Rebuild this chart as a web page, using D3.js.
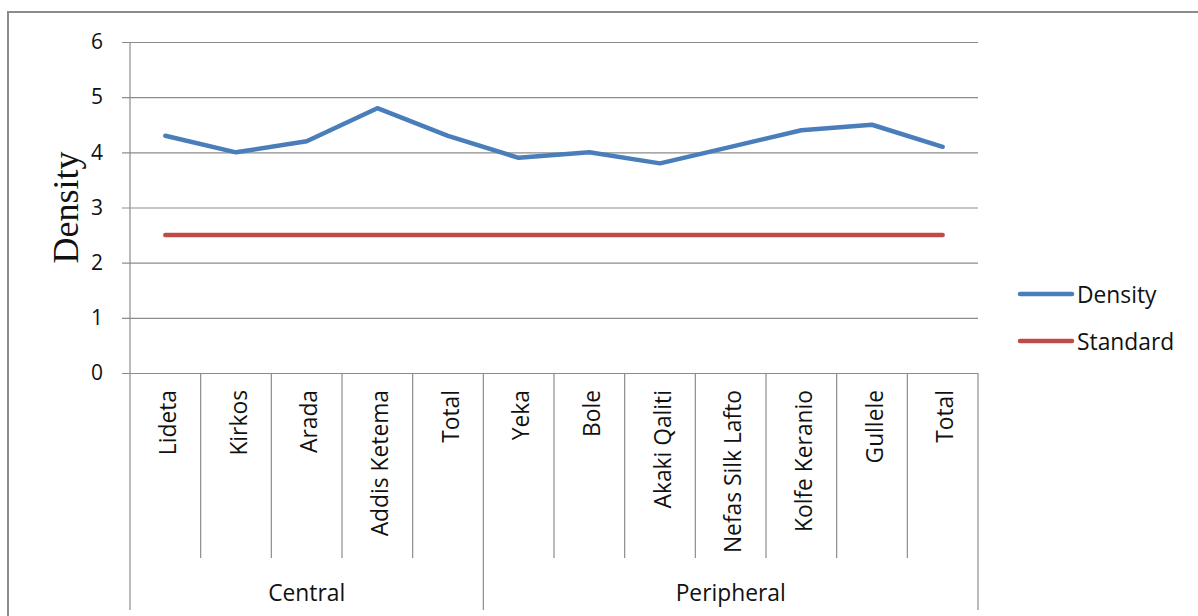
<!DOCTYPE html>
<html>
<head>
<meta charset="utf-8">
<script src="https://cdn.jsdelivr.net/npm/d3@7"></script>
<style>
  html, body { margin: 0; padding: 0; background: #fff; }
  svg { display: block; }
</style>
</head>
<body>
<svg id="chart" width="1198" height="616"></svg>
<script>
// Districts grouped into Central and Peripheral sub-cities
const groups = ["Central", "Peripheral"];
const categories = [
  "Lideta", "Kirkos", "Arada", "Addis Ketema", "Total",
  "Yeka", "Bole", "Akaki Qaliti", "Nefas Silk Lafto", "Kolfe Keranio", "Gullele", "Total"
];
const categoryGroup = [0, 0, 0, 0, 0, 1, 1, 1, 1, 1, 1, 1];
const densityValues = [4.3, 4.0, 4.2, 4.8, 4.3, 3.9, 4.0, 3.8, 4.1, 4.4, 4.5, 4.1];
const standardValues = [2.5, 2.5, 2.5, 2.5, 2.5, 2.5, 2.5, 2.5, 2.5, 2.5, 2.5, 2.5];
const yTicks = [0, 1, 2, 3, 4, 5, 6];
const seriesNames = ["Density", "Standard"];
const seriesColors = ["#4a7ebb", "#be4b48"];

const sans = "'Open Sans', Lato, sans-serif";
const fs = 22.8;
const textColor = "#111";
const svg = d3.select("#chart");

// Outer chart frame
svg.append("rect")
  .attr("x", 8).attr("y", 12).attr("width", 1300).attr("height", 800)
  .attr("fill", "none").attr("stroke", "#8c8c8c").attr("stroke-width", 2);

const plot = { left: 130, right: 978, top: 42, bottom: 373 };

const x = d3.scaleBand()
  .domain(d3.range(categories.length))
  .range([plot.left, plot.right])
  .paddingInner(0).paddingOuter(0);

const y = d3.scaleLinear().domain([0, 6]).range([plot.bottom, plot.top]);

// Horizontal gridlines with small outside ticks
const yAxis = d3.axisLeft(y).tickValues(yTicks).tickFormat(d3.format("d"))
  .tickSize(-(plot.right - plot.left)).tickPadding(0);
const gy = svg.append("g").attr("transform", `translate(${plot.left},0)`).call(yAxis);
gy.select(".domain").remove();
gy.selectAll(".tick line")
  .attr("x1", -8)
  .attr("stroke", "#8c8c8c").attr("stroke-width", 1.2);
gy.selectAll(".tick text")
  .attr("x", -27)
  .attr("font-family", sans).attr("font-size", 21).attr("fill", textColor);

// Vertical axis line
svg.append("line")
  .attr("x1", plot.left).attr("x2", plot.left)
  .attr("y1", plot.top).attr("y2", plot.bottom)
  .attr("stroke", "#8c8c8c").attr("stroke-width", 1.2);

// Y axis title
svg.append("text")
  .attr("transform", `translate(78,${(plot.top + plot.bottom) / 2}) rotate(-90)`)
  .attr("text-anchor", "middle")
  .attr("font-family", "'Liberation Serif', 'DejaVu Serif', serif")
  .attr("font-size", 36).attr("fill", textColor)
  .text("Density");

// Category separators below the axis
const catBottom = 558, groupBottom = 610;
const boundaries = d3.range(categories.length + 1);
svg.append("g").selectAll("line")
  .data(boundaries)
  .join("line")
  .attr("x1", i => i === categories.length ? plot.right : x(i))
  .attr("x2", i => i === categories.length ? plot.right : x(i))
  .attr("y1", plot.bottom)
  .attr("y2", i => {
    if (i === 0 || i === categories.length) return groupBottom;
    return categoryGroup[i] !== categoryGroup[i - 1] ? groupBottom : catBottom;
  })
  .attr("stroke", "#8c8c8c").attr("stroke-width", 1.2);

// Category labels (rotated)
svg.append("g").selectAll("text")
  .data(categories)
  .join("text")
  .attr("transform", (d, i) => `translate(${x(i) + x.bandwidth() / 2 + 2},390) rotate(-90)`)
  .attr("text-anchor", "end")
  .attr("dominant-baseline", "central")
  .attr("font-family", sans).attr("font-size", fs).attr("fill", textColor)
  .text(d => d);

// Group labels
groups.forEach((g, gi) => {
  const idx = categoryGroup.map((v, i) => v === gi ? i : -1).filter(i => i >= 0);
  const x0 = x(idx[0]), x1 = x(idx[idx.length - 1]) + x.bandwidth();
  svg.append("text")
    .attr("x", (x0 + x1) / 2).attr("y", 592)
    .attr("text-anchor", "middle").attr("dominant-baseline", "central")
    .attr("font-family", sans).attr("font-size", fs).attr("fill", textColor)
    .text(g);
});

// Series lines
const line = d3.line()
  .x((d, i) => x(i) + x.bandwidth() / 2)
  .y(d => y(d));

[densityValues, standardValues].forEach((vals, si) => {
  svg.append("path")
    .datum(vals)
    .attr("d", line)
    .attr("fill", "none")
    .attr("stroke", seriesColors[si])
    .attr("stroke-width", 4.5)
    .attr("stroke-linecap", "round")
    .attr("stroke-linejoin", "round");
});

// Legend
const legendY = [294, 341];
seriesNames.forEach((name, i) => {
  svg.append("line")
    .attr("x1", 1020).attr("x2", 1072)
    .attr("y1", legendY[i]).attr("y2", legendY[i])
    .attr("stroke", seriesColors[i]).attr("stroke-width", 4.5)
    .attr("stroke-linecap", "round");
  svg.append("text")
    .attr("x", 1077).attr("y", legendY[i])
    .attr("dominant-baseline", "central")
    .attr("font-family", sans).attr("font-size", fs).attr("fill", textColor)
    .text(name);
});
</script>
</body>
</html>
